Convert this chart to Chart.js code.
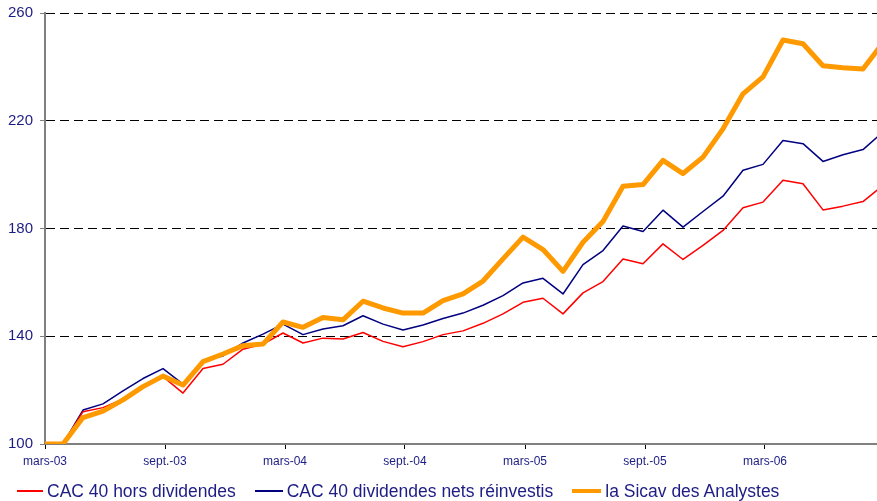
<!DOCTYPE html>
<html>
<head>
<meta charset="utf-8">
<script src="https://cdn.jsdelivr.net/npm/chart.js@4.4.0/dist/chart.umd.min.js"></script>
<style>
  body { margin: 0; background: #fff; }
  #wrap { position: relative; width: 877px; height: 501px; overflow: hidden; }
  #chart { position: absolute; left: 0; top: -3px; }
  #legend {
    position: absolute; left: 17px; top: 481px;
    display: flex; gap: 19px;
    font: 17.5px "Liberation Sans", Arial, sans-serif;
    color: #1c1c84; white-space: nowrap; line-height: 20px;
  }
  .item { display: flex; align-items: center; }
  .swatch { display: inline-block; width: 26px; margin-right: 4px; }
</style>
</head>
<body>
<div id="wrap">
  <canvas id="chart" width="877" height="504"></canvas>
  <div id="legend"></div>
</div>
<script>
// monthly points, mars-03 .. sept.-06
const months = [
  "mars-03", "avr.-03", "mai-03", "juin-03", "juil.-03", "août-03", "sept.-03", "oct.-03", "nov.-03", "déc.-03",
  "janv.-04", "févr.-04", "mars-04", "avr.-04", "mai-04", "juin-04", "juil.-04", "août-04", "sept.-04", "oct.-04",
  "nov.-04", "déc.-04", "janv.-05", "févr.-05", "mars-05", "avr.-05", "mai-05", "juin-05", "juil.-05", "août-05",
  "sept.-05", "oct.-05", "nov.-05", "déc.-05", "janv.-06", "févr.-06", "mars-06", "avr.-06", "mai-06", "juin-06",
  "juil.-06", "août-06", "sept.-06"
];

const cacHorsDividendes = [
  100, 100, 112.0, 113.5, 116.6, 120.9, 125.0, 118.9, 128.0, 129.6,
  135.2, 137.1, 141.2, 137.5, 139.3, 139.0, 141.4, 138.1, 136.1, 138.0,
  140.6, 142.0, 144.8, 148.3, 152.6, 154.1, 148.3, 156.1, 160.3, 168.7,
  166.9, 174.3, 168.5, 173.7, 179.3, 187.7, 189.8, 197.9, 196.6, 186.9,
  188.3, 190.0, 196.0
];

const cacDividendesNets = [
  100, 100, 112.6, 114.9, 119.7, 124.3, 128.0, 122.2, 130.9, 132.7,
  137.5, 140.8, 144.5, 140.6, 142.7, 143.9, 147.6, 144.5, 142.3, 144.2,
  146.6, 148.6, 151.5, 155.1, 159.8, 161.5, 155.7, 166.6, 171.8, 180.9,
  178.9, 186.8, 180.5, 186.3, 192.0, 201.6, 203.8, 212.7, 211.5, 204.9,
  207.4, 209.3, 215.8
];

const sicavAnalystes = [
  100, 100, 109.8, 112.2, 116.4, 121.3, 125.2, 121.9, 130.6, 133.4,
  136.5, 137.1, 145.3, 143.3, 147.0, 146.1, 153.0, 150.5, 148.6, 148.6,
  153.2, 155.7, 160.5, 168.7, 176.8, 172.2, 164.1, 174.9, 182.6, 195.7,
  196.3, 205.3, 200.4, 206.5, 217.0, 230.0, 236.3, 250.0, 248.6, 240.4,
  239.7, 239.2, 249.0
];

const xTickIndex = [0, 6, 12, 18, 24, 30, 36];
const yTicks = [100, 140, 180, 220, 260];

const textColor = "#1c1c84";
const fontFamily = '"Liberation Sans", Arial, sans-serif';

const series = [
  { label: "CAC 40 hors dividendes", values: cacHorsDividendes, color: "#ff0000", width: 1.5, order: 1, swatch: 2, sw: 26 },
  { label: "CAC 40 dividendes nets réinvestis", values: cacDividendesNets, color: "#000080", width: 1.5, order: 2, swatch: 2, sw: 28 },
  { label: "la Sicav des Analystes", values: sicavAnalystes, color: "#ff9900", width: 5, order: 0, swatch: 4, sw: 29 }
];

const toPoints = arr => arr.map((v, i) => ({ x: i, y: v }));

const ctx = document.getElementById("chart").getContext("2d");
new Chart(ctx, {
  type: "line",
  data: {
    datasets: series.map(s => ({
      label: s.label,
      data: toPoints(s.values),
      borderColor: s.color,
      borderWidth: s.width,
      order: s.order,
      fill: false
    }))
  },
  options: {
    responsive: false,
    animation: false,
    layout: { padding: { top: 10, right: 0, left: 0, bottom: 0 } },
    elements: {
      point: { radius: 0 },
      line: { tension: 0, borderJoinStyle: "round" }
    },
    plugins: { legend: { display: false }, tooltip: { enabled: false } },
    scales: {
      x: {
        type: "linear",
        min: 0.1,
        max: 41.7,
        afterBuildTicks: s => { s.ticks = xTickIndex.map(i => ({ value: i + 0.1 })); },
        afterFit: s => { s.height = 57; },
        ticks: {
          callback: v => months[Math.round(v)],
          color: textColor,
          font: { size: 12, family: fontFamily },
          maxRotation: 0,
          autoSkip: false,
          padding: 5
        },
        grid: { drawOnChartArea: false, tickLength: 5, tickColor: "#000", tickWidth: 1 },
        border: { color: "#808080", width: 2 }
      },
      y: {
        min: 100,
        max: 260,
        afterBuildTicks: s => { s.ticks = yTicks.map(v => ({ value: v })); },
        afterFit: s => { s.width = 45; },
        ticks: {
          color: textColor,
          font: { size: 15, family: fontFamily },
          padding: 7
        },
        grid: {
          color: c => (c.tick && c.tick.value === 100) ? "rgba(0,0,0,0)" : "#000",
          lineWidth: 1,
          tickLength: 5,
          tickColor: "#808080",
          tickBorderDash: []
        },
        border: { color: "#808080", width: 2, dash: [9, 5] }
      }
    }
  }
});

// legend as html
const legend = document.getElementById("legend");
series.forEach(s => {
  const item = document.createElement("span");
  item.className = "item";
  item.innerHTML = `<span class="swatch" style="height:${s.swatch}px;width:${s.sw}px;background:${s.color}"></span>${s.label}`;
  legend.appendChild(item);
});
</script>
</body>
</html>
